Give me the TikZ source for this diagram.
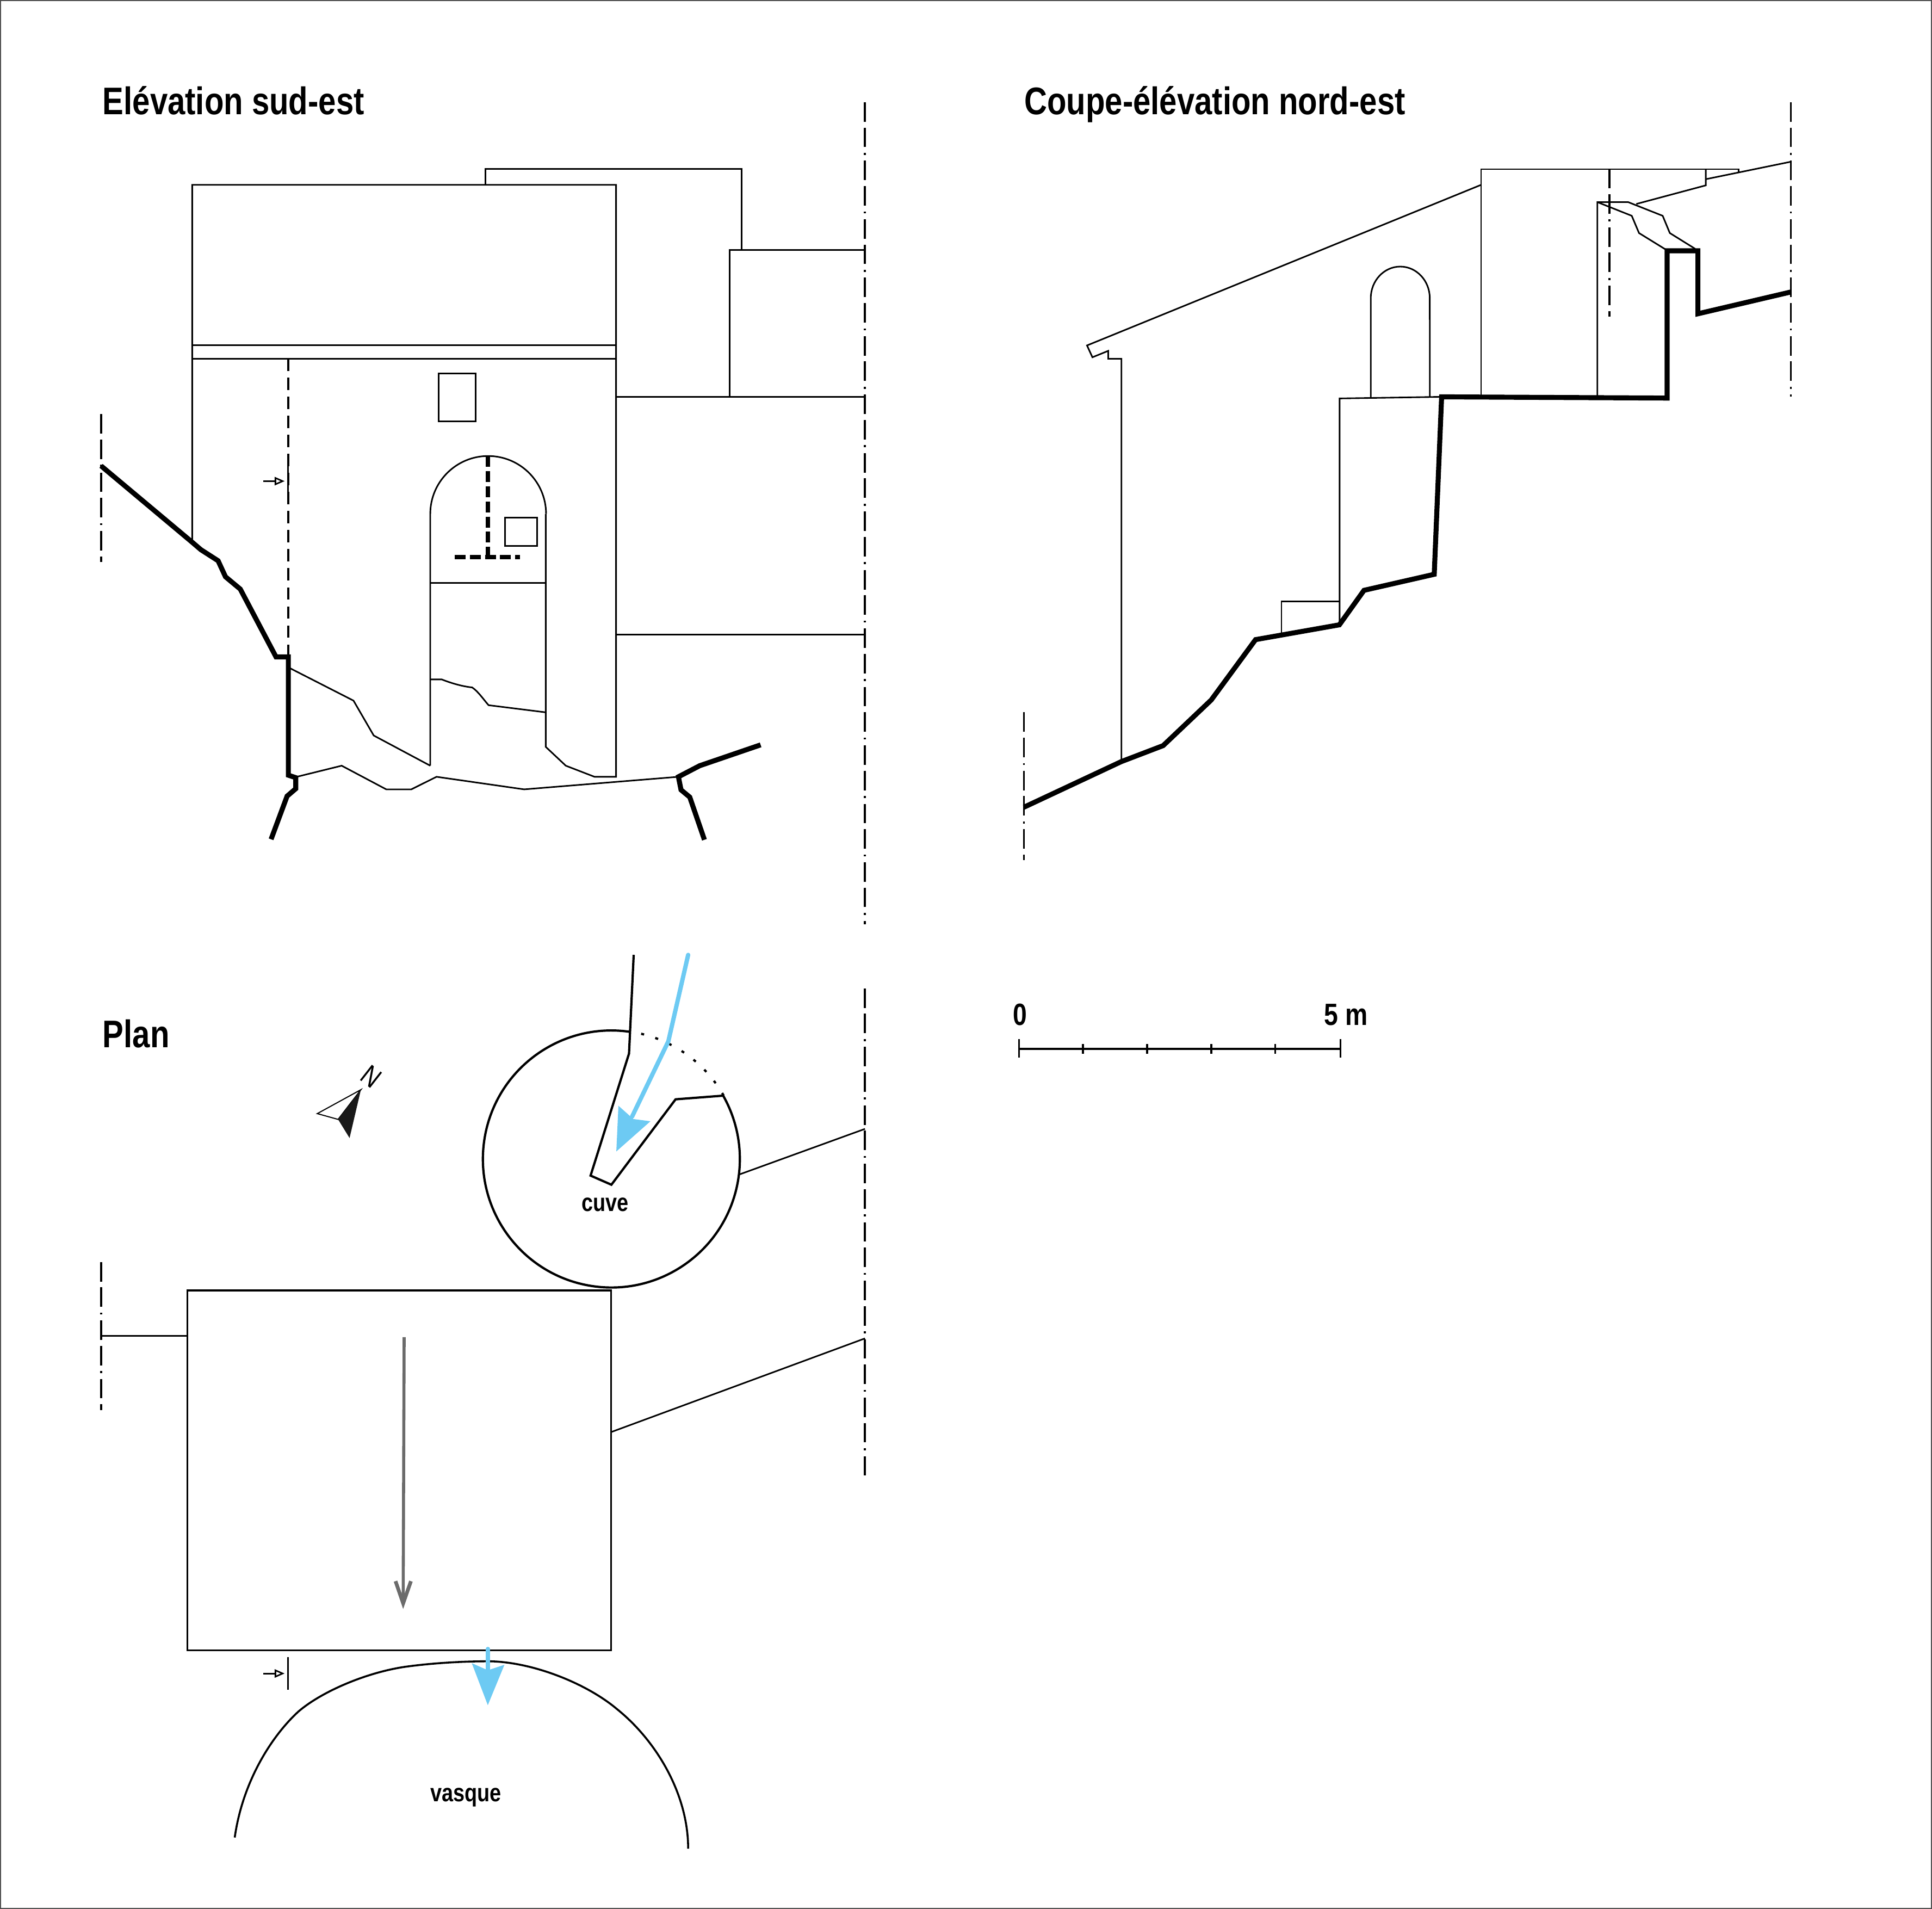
\documentclass[tikz,border=0pt]{standalone}
\usepackage{fontspec}
\setmainfont[FakeStretch=0.82]{Liberation Sans}
\usetikzlibrary{arrows.meta}
\definecolor{eau}{HTML}{6DCAF3}
\definecolor{pente}{HTML}{6B6B6B}
\tikzset{
  trait/.style={line width=.72pt,line join=miter},
  sol/.style={line width=2.3pt,line join=miter},
  contour/.style={line width=1.05pt,line join=miter},
  axe/.style={line width=.9pt,dash pattern=on 9pt off 2.7pt on 9pt off 2.7pt on .9pt off 2.7pt},
  cache/.style={line width=.8pt,dash pattern=on 5.7pt off 3.1pt},
  cachefort/.style={line width=1.9pt,dash pattern=on 5pt off 2pt},
  titre/.style={font=\bfseries\fontsize{17.8}{20}\selectfont,anchor=base west,inner sep=0pt},
  cote/.style={font=\bfseries\fontsize{14.2}{16}\selectfont,anchor=base,inner sep=0pt},
  legende/.style={font=\bfseries\fontsize{11.6}{14}\selectfont,anchor=base,inner sep=0pt},
  eaufleche/.style={line width=2pt,draw=eau,line cap=round,line join=round},
  repere/.style={line width=.7pt,-{Triangle[open,fill=white,length=4.6pt,width=3.8pt]}},
}
\begin{document}
\begin{tikzpicture}[x=.02cm,y=-.02cm]
\useasboundingbox (0,0) rectangle (1568,1549);
\draw[line width=1pt,black!70] (0,0) rectangle (1568,1549);
%titles
\node[titre] (elevation) at (83,93) {Elévation sud-est};
\node[titre] (coupe) at (831,93) {Coupe-élévation nord-est};
\node[titre] (plan) at (83,850) {Plan};
%axes
\draw[axe] (702,83) -- (702,750);
\draw[axe] (82,336) -- (82,456);
\draw[axe] (1453.5,83) -- (1453.5,322);
\draw[axe] (831,578) -- (831,698);
\draw[axe] (1306.2,137) -- (1306.2,257);
\draw[axe] (702,802) -- (702,1200);
\draw[axe] (82,1024) -- (82,1144);
%elevation, main block
\draw[trait] (156,440) -- (156,150) -- (500,150) -- (500,630.3) -- (482.5,630.3) -- (459.2,621.3) -- (442.9,606) -- (442.9,417);
\draw[trait] (156,280) -- (500,280);
\draw[trait] (156,291) -- (500,291);
\draw[trait] (394,150) -- (394,137) -- (602,137) -- (602,203);
\draw[trait] (592,322) -- (592,203) -- (702,203);
\draw[trait] (500,322) -- (702,322);
\draw[trait] (500,515) -- (702,515);
\draw[trait] (356,303) rectangle (386,342);
%arch
\draw[trait] (349.2,621.3) -- (349.2,417) arc[start angle=180, end angle=0, radius=.94cm];
\draw[trait] (349.2,473) -- (442.9,473);
\draw[trait] (410,420) rectangle (436,443);
\draw[cachefort] (396,370) -- (396,452);
\draw[cachefort] (369,452) -- (422,452);
\draw[trait] (349.2,551.3) -- (358.5,551.3) .. controls (368,555) and (376,557) .. (383.2,557.8) .. controls (388,561) and (392,567) .. (396.5,572.2) -- (442.9,578);
\draw[trait] (349.2,621.3) -- (303.3,596.8) -- (286.9,568.5) -- (234,541.5);
\draw[trait] (241.3,630.2) -- (277.3,621.3) -- (313.5,640.5) -- (333.8,640.5) -- (354.3,630.3) -- (425.4,640.5) -- (550.6,630.3);
%section mark on elevation
\draw[cache] (234,291) -- (234,533);
\draw[trait] (233.7,377.4) -- (233.7,403);
\draw[repere] (213.7,390.4) -- (231,390.4);
%ground line of elevation
\draw[sol] (82,378) -- (156,440) -- (163,446) -- (177,455) -- (183,468) -- (195,478) -- (224,533) -- (234,533) -- (234,629) -- (240,631) -- (240,640) -- (233,646) -- (220,681);
\draw[sol] (617.3,604.4) -- (567.9,621.3) -- (550.6,630.3) -- (552.7,640.9) -- (559.8,646.8) -- (571.7,681.4);
%section, roof and walls
\draw[trait] (910.1,618) -- (910.1,291.1) -- (899.4,291.1) -- (899.4,284.7) -- (886.6,289.9) -- (882.2,280.3) -- (1202,150);
\draw[trait] (1202,322) -- (1202,137.3) -- (1410.9,137.3) -- (1410.9,140.1);
\draw[trait] (1296.4,322) -- (1296.4,164) -- (1321.4,164) -- (1349.4,175.1) -- (1355.2,189.1) -- (1375.8,201.9);
\draw[trait] (1296.4,164) -- (1324.3,175.1) -- (1330.2,189.1) -- (1351.6,202.3);
\draw[trait] (1328,165.5) -- (1384.4,150.4) -- (1384.4,137.3);
\draw[trait] (1384.4,145.4) -- (1453.1,131.3);
%small arch in section
\draw[trait] (1112.5,323) -- (1112.5,242) arc[start angle=180, end angle=0, x radius=.479cm, y radius=.514cm] -- (1160.4,322);
\draw[trait] (1087.2,507) -- (1087.2,323.3) -- (1170,322);
\draw[trait] (1040,514) -- (1040,488) -- (1087.2,488);
%ground line of section
\draw[sol] (831,655) -- (910,618) -- (944,605) -- (983,568) -- (1019,519) -- (1087,507) -- (1107,479) -- (1164,466) -- (1170,322) -- (1353,323) -- (1353,203.5) -- (1378,203.5) -- (1378,254.6) -- (1453.5,236.9);
%scale
\draw[trait,line width=.9pt] (827,851) -- (1088,851);
\draw[trait,line width=.9pt] (827,843) -- (827,858);
\draw[trait,line width=.9pt] (1088,843) -- (1088,858);
\foreach \tick in {879,931,983,1035}
  \draw[trait,line width=.9pt] (\tick,847) -- (\tick,855);
\node[cote] (zero) at (828,832) {0};
\node[cote] (cinq) at (1092.5,832) {5 m};
%north
\draw[line width=.5pt,fill=white] (292.9,884.2) -- (257.5,903.6) -- (274.4,908.3) -- cycle;
\fill[black!90] (292.9,884.2) -- (274.4,908.3) -- (283.7,923.4) -- cycle;
\node[rotate=-38,inner sep=0pt,font=\fontsize{13}{14}\selectfont] (nord) at (301.4,873.5) {N};
%plan, circular tank
\draw[contour] (511.6,837.3) arc[start angle=81.5, end angle=389.5, radius=2.086cm];
\draw[contour,dash pattern=on 1.4pt off 5.4pt] (587.3,889) arc[start angle=29.5, end angle=81.5, radius=2.086cm];
\draw[contour] (514.3,774.8) -- (510.5,854.9) -- (479.3,953.9) -- (496.2,961.3) -- (548.3,892) -- (587.3,889);
\draw[trait] (600,953) -- (702,916);
\draw[eaufleche] (558.5,774.8) -- (542.4,845) -- (513,906);
\fill[eau] (500.2,934.3) -- (501.9,897.2) -- (514,908) -- (527.9,909.8) -- cycle;
\node[legende] (cuve) at (491,983) {cuve};
%plan, main block
\draw[trait,line width=.85pt] (152,1047) rectangle (496,1339);
\draw[trait] (82,1084) -- (152,1084);
\draw[trait] (496,1162) -- (702,1086);
\draw[line width=1.4pt,pente] (328,1085) -- (327.2,1300);
\draw[line width=1.7pt,pente,line join=miter] (321,1283) -- (327.2,1301) -- (333.5,1283);
%section mark on plan
\draw[trait] (233.7,1344.7) -- (233.7,1371);
\draw[repere] (213.7,1357.9) -- (231,1357.9);
%basin
\draw[trait,line width=.9pt] (190.5,1491) .. controls (197,1445) and (221,1408) .. (242.5,1388.5) .. controls (262,1372) and (298,1357) .. (328.6,1352.5) .. controls (350,1349.5) and (375,1348) .. (396,1348) .. controls (430,1348) and (475,1365) .. (501,1387) .. controls (532,1412) and (558.5,1455) .. (558.5,1500);
\draw[eaufleche] (395.9,1338) -- (395.9,1356);
\fill[eau] (395.9,1383.6) -- (382.9,1349.5) -- (395.9,1355.3) -- (409.4,1350.8) -- cycle;
\node[legende] (vasque) at (378,1462) {vasque};
\end{tikzpicture}
\end{document}
